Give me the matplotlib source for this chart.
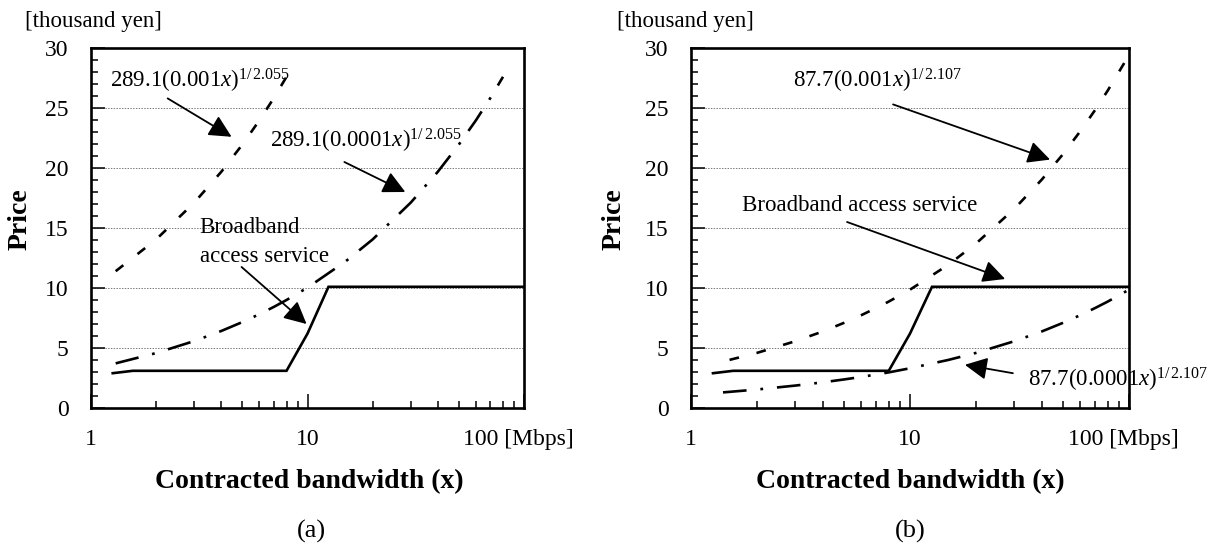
import matplotlib
matplotlib.use("Agg")
import matplotlib.pyplot as plt
from matplotlib.ticker import FixedLocator, NullFormatter, FixedFormatter

plt.rcParams['font.family'] = ['Liberation Serif', 'DejaVu Serif']
plt.rcParams['mathtext.fontset'] = 'custom'
plt.rcParams['mathtext.rm'] = 'Liberation Serif'
plt.rcParams['mathtext.it'] = 'Liberation Serif:italic'
plt.rcParams['lines.scale_dashes'] = False

# ---------------- data ----------------
# panel (a)
bb_a_x = [1.26, 1.56, 8, 10, 12.5, 100]
bb_a_y = [2.9, 3.1, 3.1, 6.2, 10.1, 10.1]
dash_a_x = [1.3, 2, 3, 4, 5, 6, 7, 8]
dash_a_y = [11.40, 14.05, 17.12, 19.69, 21.95, 23.98, 25.85, 27.6]
dd_a_x = [1.3, 2, 3, 4, 5, 6, 7, 8, 10, 15, 20, 30, 40, 50, 60, 70, 80]
dd_a_y = [3.72, 4.58, 5.58, 6.42, 7.16, 7.82, 8.43, 9.00, 10.03, 12.22,
          14.05, 17.12, 19.69, 21.95, 23.98, 25.85, 27.6]
# panel (b)
bb_b_x = [1.26, 1.56, 8, 10, 12.6, 100]
bb_b_y = [2.9, 3.1, 3.1, 6.2, 10.1, 10.1]
dash_b_x = [1.5, 2, 3, 4, 5, 6, 7, 8, 10, 15, 20, 30, 40, 50, 60, 70, 80, 100]
dash_b_y = [4.01, 4.59, 5.57, 6.38, 7.10, 7.74, 8.33, 8.87, 9.86, 11.95,
            13.70, 16.61, 19.04, 21.16, 23.08, 24.83, 26.46, 29.41]
dd_b_x = [1.4, 2, 3, 4, 5, 6, 7, 8, 10, 15, 20, 30, 40, 50, 60, 70, 80, 100]
dd_b_y = [1.30, 1.54, 1.87, 2.14, 2.38, 2.59, 2.79, 2.97, 3.31, 4.01,
          4.59, 5.57, 6.38, 7.10, 7.74, 8.33, 8.87, 9.86]

xticks_major = [1, 10, 100]
xtick_labels = ['1', '10', '']
xticks_minor = [2, 3, 4, 5, 6, 7, 8, 9, 20, 30, 40, 50, 60, 70, 80, 90]
yticks_major = [0, 5, 10, 15, 20, 25, 30]
yticks_minor = [v for v in range(0, 31) if v % 5 != 0]

label_a_dash = r'289.1(0.001$x$)$^{1/\,2.055}$'
label_a_dd = r'289.1(0.0001$x$)$^{1/\,2.055}$'
label_b_dash = r'87.7(0.001$x$)$^{1/\,2.107}$'
label_b_dd = r'87.7(0.0001$x$)$^{1/\,2.107}$'

# ---------------- figure ----------------
W, H = 1226, 550
fig = plt.figure(figsize=(W / 100, H / 100), dpi=100)
axA = fig.add_axes([91 / W, 1 - 408 / H, 433 / W, 360 / H])
axB = fig.add_axes([691 / W, 1 - 408 / H, 438 / W, 360 / H])

dash_style = (0, (7, 13))
dd_style = (0, (17, 10, 2, 10))
LW = 1.9
TICKFS = 17
ANNFS = 16.5
XPAD = 15


def style_axes(ax):
    ax.set_xscale('log')
    ax.set_xlim(1, 100)
    ax.set_ylim(0, 30)
    ax.xaxis.set_major_locator(FixedLocator(xticks_major))
    ax.xaxis.set_major_formatter(FixedFormatter(xtick_labels))
    ax.xaxis.set_minor_locator(FixedLocator(xticks_minor))
    ax.xaxis.set_minor_formatter(NullFormatter())
    ax.yaxis.set_major_locator(FixedLocator(yticks_major))
    ax.yaxis.set_minor_locator(FixedLocator(yticks_minor))
    ax.tick_params(which='both', direction='in', top=False, right=False,
                   labelsize=TICKFS, width=1.1, color='black')
    ax.tick_params(which='major', length=10)
    ax.tick_params(which='minor', length=5)
    ax.tick_params(axis='x', which='major', pad=XPAD)
    ax.tick_params(axis='y', which='major', pad=16)
    for s in ax.spines.values():
        s.set_linewidth(1.9)
    ax.yaxis.grid(True, which='major', linestyle=(0, (1, 1)), color='#777777', lw=0.7)
    ax.set_axisbelow(True)
    ax.annotate('100 [Mbps]', xy=(100, 0), xycoords=('data', 'axes fraction'),
                xytext=(-4, -XPAD), textcoords='offset points',
                ha='center', va='top', fontsize=TICKFS)


arrow_kw = dict(arrowstyle='-|>', mutation_scale=34, lw=1.3, color='black',
                shrinkA=0, shrinkB=0)

# ---- panel (a) ----
style_axes(axA)
axA.plot(bb_a_x, bb_a_y, color='black', lw=LW, solid_joinstyle='miter')
axA.plot(dash_a_x, dash_a_y, color='black', lw=LW, linestyle=dash_style)
axA.plot(dd_a_x, dd_a_y, color='black', lw=LW, linestyle=dd_style)

axA.text(1.224, 26.67, label_a_dash, fontsize=ANNFS, ha='left', va='baseline')
axA.annotate('', xy=(4.46, 22.6), xytext=(2.26, 25.8), arrowprops=arrow_kw)
axA.text(6.68, 21.67, label_a_dd, fontsize=ANNFS, ha='left', va='baseline')
axA.annotate('', xy=(28.3, 18.0), xytext=(14.8, 20.5), arrowprops=arrow_kw)
axA.text(3.18, 14.6, 'Broadband', fontsize=ANNFS, ha='left', va='baseline')
axA.text(3.18, 12.17, 'access service', fontsize=ANNFS, ha='left', va='baseline')
axA.annotate('', xy=(9.9, 7.0), xytext=(4.96, 11.75), arrowprops=arrow_kw)

# ---- panel (b) ----
style_axes(axB)
axB.plot(bb_b_x, bb_b_y, color='black', lw=LW, solid_joinstyle='miter')
axB.plot(dash_b_x, dash_b_y, color='black', lw=LW, linestyle=dash_style)
axB.plot(dd_b_x, dd_b_y, color='black', lw=LW, linestyle=dd_style)

axB.text(2.92, 26.67, label_b_dash, fontsize=ANNFS, ha='left', va='baseline')
axB.annotate('', xy=(43.6, 20.7), xytext=(8.37, 25.3), arrowprops=arrow_kw)
axB.text(1.71, 16.4, 'Broadband access service', fontsize=ANNFS, ha='left', va='baseline')
axB.annotate('', xy=(27.2, 10.75), xytext=(5.16, 15.5), arrowprops=arrow_kw)
axB.text(34.6, 1.75, label_b_dd, fontsize=ANNFS, ha='left', va='baseline')
axB.annotate('', xy=(17.8, 3.6), xytext=(29.5, 2.9), arrowprops=arrow_kw)

# ---- figure texts ----
for cx in (93, 685):
    fig.text(cx / W, 1 - 22 / H, '[thousand yen]', fontsize=ANNFS, ha='center', va='center')
for cx in (20, 614):
    fig.text(cx / W, 1 - 219 / H, 'Price', fontsize=20, fontweight='bold',
             rotation=90, ha='center', va='center')
for cx in (309, 910):
    fig.text(cx / W, 1 - 482 / H, 'Contracted bandwidth (x)', fontsize=20,
             fontweight='bold', ha='center', va='center')
fig.text(311 / W, 1 - 531 / H, '(a)', fontsize=19, ha='center', va='center')
fig.text(910 / W, 1 - 531 / H, '(b)', fontsize=19, ha='center', va='center')

fig.savefig('out.png', dpi=100)
